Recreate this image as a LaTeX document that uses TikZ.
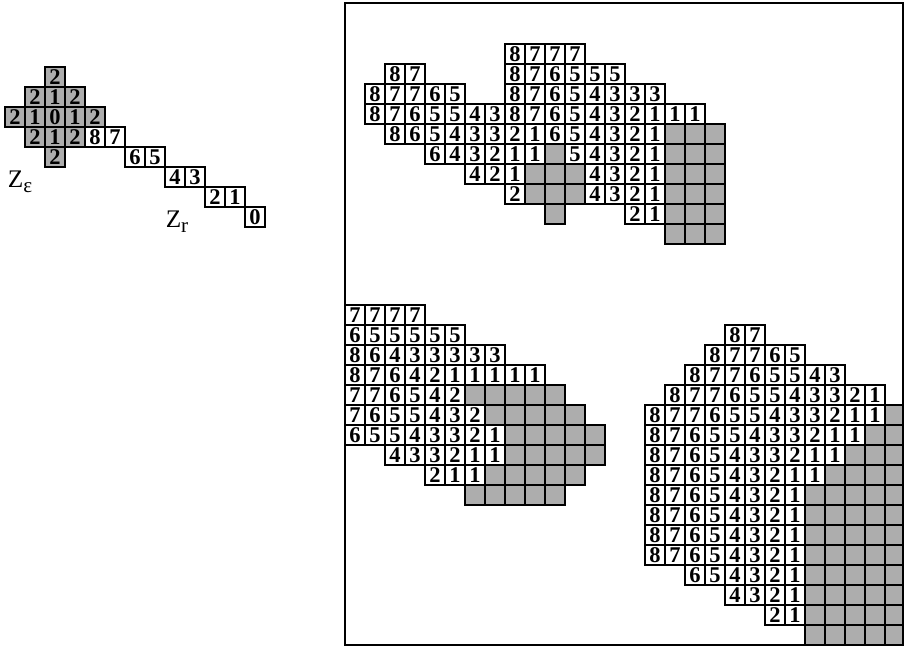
\documentclass[tikz,border=0pt]{standalone}
\usepackage{fontspec}
\setmainfont{Liberation Serif}
\usetikzlibrary{positioning}

% one row of numbered cells: prefix, style, row, first column, digits
\newcommand{\numrow}[5]{%
  \foreach \d [count=\i from #4] in {#5} {\node[#2] (#1-#3-\i) at (\i+0.5,#3+0.5) {\d};}}
% a run of blank grey cells: prefix, row, from column, to column
\newcommand{\grayrun}[4]{%
  \foreach \j in {#3,...,#4} {\node[gc] (#1-#2-\j) at (\j+0.5,#2+0.5) {};}}

\begin{document}
\begin{tikzpicture}[x=0.5cm,y=-0.5cm,
  nc/.style={draw,line width=1pt,minimum size=0.5cm,inner sep=0pt,
    font=\fontsize{16}{16}\selectfont\bfseries},
  gnc/.style={nc,fill=black!32},
  gc/.style={draw,line width=1pt,minimum size=0.5cm,inner sep=0pt,fill=black!32},
  lbl/.style={font=\fontsize{18}{18}\selectfont}]
 \useasboundingbox (0,0) rectangle (45.2,32.4);
 % structuring elements
 \begin{scope}[shift={(0.25,3.35)}]
  \numrow{e}{gnc}{0}{2}{2}
  \numrow{e}{gnc}{1}{1}{2,1,2}
  \numrow{e}{gnc}{2}{0}{2,1,0,1,2}
  \numrow{e}{gnc}{3}{1}{2,1,2}
  \numrow{e}{gnc}{4}{2}{2}
  \numrow{r}{nc}{3}{4}{8,7}
  \numrow{r}{nc}{4}{6}{6,5}
  \numrow{r}{nc}{5}{8}{4,3}
  \numrow{r}{nc}{6}{10}{2,1}
  \numrow{r}{nc}{7}{12}{0}
 \end{scope}
 \node[lbl] (ze) at (1.0,9.1) {Z\raisebox{-0.45ex}{\fontsize{15}{15}\selectfont ε}};
 \node[lbl] (zr) at (8.85,11.1) {Z\raisebox{-0.45ex}{\fontsize{15}{15}\selectfont r}};
 % upper map
 \begin{scope}[shift={(18.25,2.2)}]
  \numrow{a}{nc}{0}{7}{8,7,7,7}
  \numrow{a}{nc}{1}{1}{8,7}
  \numrow{a}{nc}{1}{7}{8,7,6,5,5,5}
  \numrow{a}{nc}{2}{0}{8,7,7,6,5}
  \numrow{a}{nc}{2}{7}{8,7,6,5,4,3,3,3}
  \numrow{a}{nc}{3}{0}{8,7,6,5,5,4,3,8,7,6,5,4,3,2,1,1,1}
  \numrow{a}{nc}{4}{1}{8,6,5,4,3,3,2,1,6,5,4,3,2,1}
  \numrow{a}{nc}{5}{3}{6,4,3,2,1,1}
  \numrow{a}{nc}{5}{10}{5,4,3,2,1}
  \numrow{a}{nc}{6}{5}{4,2,1}
  \numrow{a}{nc}{6}{11}{4,3,2,1}
  \numrow{a}{nc}{7}{7}{2}
  \numrow{a}{nc}{7}{11}{4,3,2,1}
  \numrow{a}{nc}{8}{13}{2,1}
  \grayrun{a}{4}{15}{17} \grayrun{a}{5}{9}{9} \grayrun{a}{5}{15}{17}
  \grayrun{a}{6}{8}{10} \grayrun{a}{6}{15}{17} \grayrun{a}{7}{8}{10}
  \grayrun{a}{7}{15}{17} \grayrun{a}{8}{9}{9} \grayrun{a}{8}{15}{17}
  \grayrun{a}{9}{15}{17}
 \end{scope}
 % lower left map
 \begin{scope}[shift={(17.25,15.25)}]
  \numrow{b}{nc}{0}{0}{7,7,7,7}
  \numrow{b}{nc}{1}{0}{6,5,5,5,5,5}
  \numrow{b}{nc}{2}{0}{8,6,4,3,3,3,3,3}
  \numrow{b}{nc}{3}{0}{8,7,6,4,2,1,1,1,1,1}
  \numrow{b}{nc}{4}{0}{7,7,6,5,4,2}
  \numrow{b}{nc}{5}{0}{7,6,5,5,4,3,2}
  \numrow{b}{nc}{6}{0}{6,5,5,4,3,3,2,1}
  \numrow{b}{nc}{7}{2}{4,3,3,2,1,1}
  \numrow{b}{nc}{8}{4}{2,1,1}
  \grayrun{b}{4}{6}{10} \grayrun{b}{5}{7}{11} \grayrun{b}{6}{8}{12}
  \grayrun{b}{7}{8}{12} \grayrun{b}{8}{7}{11} \grayrun{b}{9}{6}{10}
 \end{scope}
 % lower right map
 \begin{scope}[shift={(32.25,16.25)}]
  \numrow{c}{nc}{0}{4}{8,7}
  \numrow{c}{nc}{1}{3}{8,7,7,6,5}
  \numrow{c}{nc}{2}{2}{8,7,7,6,5,5,4,3}
  \numrow{c}{nc}{3}{1}{8,7,7,6,5,5,4,3,3,2,1}
  \numrow{c}{nc}{4}{0}{8,7,7,6,5,5,4,3,3,2,1,1}
  \numrow{c}{nc}{5}{0}{8,7,6,5,5,4,3,3,2,1,1}
  \numrow{c}{nc}{6}{0}{8,7,6,5,4,3,3,2,1,1}
  \numrow{c}{nc}{7}{0}{8,7,6,5,4,3,2,1,1}
  \foreach \r in {8,...,11} {\numrow{c}{nc}{\r}{0}{8,7,6,5,4,3,2,1}}
  \numrow{c}{nc}{12}{2}{6,5,4,3,2,1}
  \numrow{c}{nc}{13}{4}{4,3,2,1}
  \numrow{c}{nc}{14}{6}{2,1}
  \grayrun{c}{4}{12}{12} \grayrun{c}{5}{11}{12} \grayrun{c}{6}{10}{12}
  \grayrun{c}{7}{9}{12}
  \foreach \r in {8,...,15} {\grayrun{c}{\r}{8}{12}}
 \end{scope}
 \draw[line width=1.4pt] (17.25,0.15) rectangle (45.15,32.25);
\end{tikzpicture}
\end{document}
